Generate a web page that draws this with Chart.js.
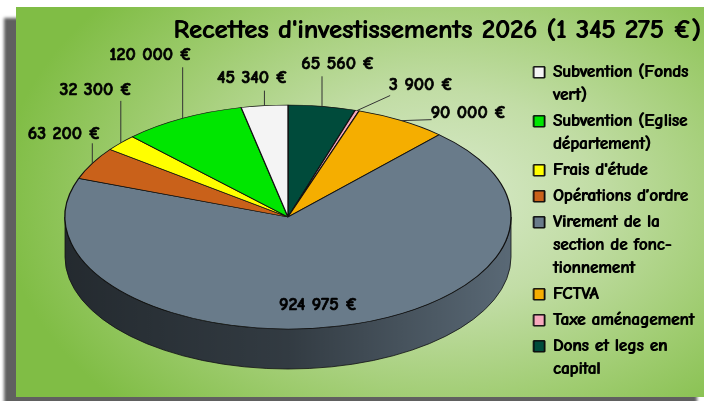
<!DOCTYPE html>
<html lang="fr">
<head>
<meta charset="utf-8">
<title>Recettes d'investissements 2026</title>
<script src="https://cdn.jsdelivr.net/npm/chart.js@4.4.1/dist/chart.umd.min.js"></script>
<style>
  html, body { margin: 0; padding: 0; background: #fff; }
  #frame { position: relative; width: 704px; height: 401px; overflow: hidden; }
  #panel {
    position: absolute; left: 16px; top: 7px; width: 693px; height: 390px;
    background: radial-gradient(ellipse 440px 300px at 424px 190px, #d9eacb 0%, #c2dda6 35%, #9fcc70 70%, #80bd45 100%);
    box-shadow: -12px 11px 3px #606060;
  }
  #chart { position: absolute; left: 0; top: 0; }
</style>
</head>
<body>
<div id="frame">
  <div id="panel"></div>
  <canvas id="chart" width="704" height="401"></canvas>
</div>
<script>
// slices, clockwise from 12 o'clock (legend shows them reversed)
const categories = [
  ['Dons et legs en', 'capital'],
  ['Taxe aménagement'],
  ['FCTVA'],
  ['Virement de la', 'section de fonc-', 'tionnement'],
  ['Opérations d’ordre'],
  ["Frais d'étude"],
  ['Subvention (Eglise', 'département)'],
  ['Subvention (Fonds', 'vert)']
];
const amounts = [65560, 3900, 90000, 924975, 63200, 32300, 120000, 45340];
const sliceColors = ['#004b3b', '#f6a9bd', '#f5ae00', '#697b8a', '#c9611a', '#ffff00', '#00e600', '#f4f4f4'];

// label placement, relative to the slice's rim point: [lineDx, lineDy, textDx, textDy]
const labelOffsets = [
  [0, -30, 16, -42],
  [33, -15, 64, -26],
  [30, -1, 67, -8],
  [null, null, -22, -21],
  [0, -20, -28, -29],
  [0, -42, -25, -53],
  [0, -51, -32, -63],
  [0, -15, -12, -28]
];

const FONT = "'Comic Sans MS', 'Comic Neue', Lato, sans-serif";
// 3D pie geometry
const CX = 288, CY = 217, RX = 223, RY = 112, DEPTH = 40;

function euros(v) {
  return String(v).replace(/\B(?=(\d{3})+(?!\d))/g, ' ') + ' €';
}
const total = amounts.reduce((a, b) => a + b, 0);

function drawSide(ctx, a0, a1, color) {
  const s = Math.max(a0, 0), e = Math.min(a1, Math.PI);
  if (e <= s) return;
  ctx.save();
  ctx.beginPath();
  ctx.ellipse(CX, CY, RX, RY, 0, s, e);
  ctx.lineTo(CX + RX * Math.cos(e), CY + DEPTH + RY * Math.sin(e));
  ctx.ellipse(CX, CY + DEPTH, RX, RY, 0, e, s, true);
  ctx.closePath();
  ctx.fillStyle = color;
  ctx.fill();
  const shade = ctx.createLinearGradient(CX - RX, 0, CX + RX, 0);
  shade.addColorStop(0, 'rgba(0,0,0,0.66)');
  shade.addColorStop(0.5, 'rgba(0,0,0,0.52)');
  shade.addColorStop(1, 'rgba(0,0,0,0.15)');
  ctx.fillStyle = shade;
  ctx.fill();
  ctx.strokeStyle = '#111';
  ctx.lineWidth = 0.8;
  ctx.stroke();
  ctx.restore();
}

const pie3d = {
  id: 'pie3d',
  beforeDraw(chart) {
    // title + legend are drawn next: thicken their strokes a little
    const ctx = chart.ctx;
    ctx.save();
    ctx.shadowColor = '#000';
    ctx.shadowOffsetX = 0.8;
    ctx.shadowBlur = 0;
  },
  beforeDatasetsDraw(chart) {
    const ctx = chart.ctx;
    ctx.restore();
    const arcs = chart.getDatasetMeta(0).data;
    arcs.forEach((arc, i) => drawSide(ctx, arc.startAngle, arc.endAngle, sliceColors[i]));
    const base = arcs[0];
    ctx.save();
    ctx.translate(CX, CY);
    ctx.scale(RX / base.outerRadius, RY / base.outerRadius);
    ctx.translate(-base.x, -base.y);
  },
  afterDatasetsDraw(chart) {
    const ctx = chart.ctx;
    ctx.restore();
    const arcs = chart.getDatasetMeta(0).data;
    ctx.save();
    ctx.font = 'bold 18px ' + FONT;
    ctx.textAlign = 'center';
    ctx.textBaseline = 'middle';
    arcs.forEach((arc, i) => {
      const mid = (arc.startAngle + arc.endAngle) / 2;
      const ex = CX + RX * Math.cos(mid);
      const ey = CY + RY * Math.sin(mid);
      const [ldx, ldy, tdx, tdy] = labelOffsets[i];
      if (ldx !== null) {
        ctx.beginPath();
        ctx.moveTo(ex, ey);
        ctx.lineTo(ex + ldx, ey + ldy);
        ctx.strokeStyle = '#333';
        ctx.lineWidth = 1;
        ctx.stroke();
      }
      ctx.fillStyle = '#000';
      ctx.strokeStyle = '#000';
      ctx.lineWidth = 0.7;
      ctx.fillText(euros(amounts[i]), ex + tdx, ey + tdy);
      ctx.strokeText(euros(amounts[i]), ex + tdx, ey + tdy);
    });
    ctx.restore();
  }
};

Chart.defaults.font.family = FONT;

new Chart(document.getElementById('chart'), {
  type: 'pie',
  data: {
    labels: categories,
    datasets: [{
      data: amounts,
      backgroundColor: sliceColors,
      borderColor: '#111',
      borderWidth: 1,
      clip: false
    }]
  },
  options: {
    responsive: false,
    devicePixelRatio: 1,
    animation: false,
    layout: { padding: { left: 170, right: 0, top: 0, bottom: 0 } },
    plugins: {
      title: {
        display: true,
        text: "Recettes d'investissements 2026 (" + euros(total) + ')',
        color: '#000',
        font: { size: 26.5, weight: 900 },
        padding: { top: 15, bottom: 14 }
      },
      legend: {
        position: 'right',
        align: 'start',
        fullSize: false,
        reverse: true,
        labels: {
          boxWidth: 11,
          boxHeight: 11,
          padding: 3,
          color: '#000',
          font: { size: 17, weight: 'bold', lineHeight: '23px' }
        }
      },
      tooltip: { enabled: false }
    }
  },
  plugins: [pie3d]
});
</script>
</body>
</html>
